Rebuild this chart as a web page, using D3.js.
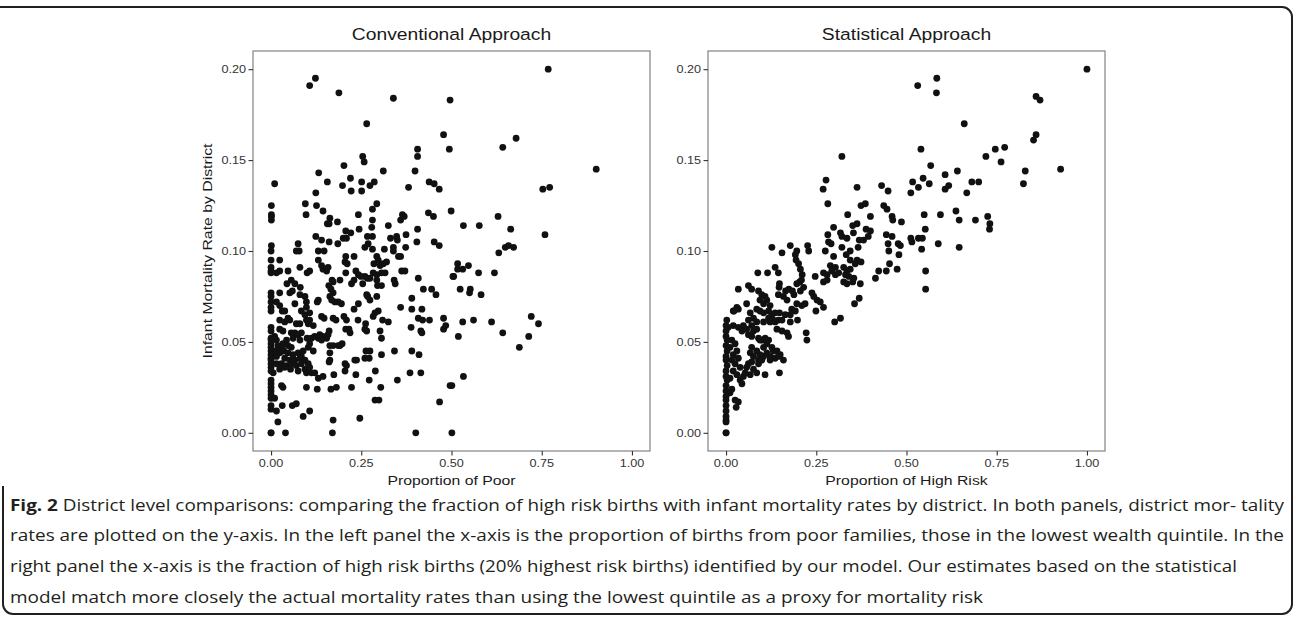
<!DOCTYPE html>
<html>
<head>
<meta charset="utf-8">
<script src="https://cdn.jsdelivr.net/npm/d3@7"></script>
<style>
  body { margin: 0; background: #fff; }
  svg { display: block; }
</style>
</head>
<body>
<div id="chart"></div>
<script>
// tick values shared by both panels
const xTicks = [0, 0.25, 0.5, 0.75, 1];
const yTicks = [0, 0.05, 0.1, 0.15, 0.2];

// panel titles and axis titles
const panelTitles = ["Conventional Approach", "Statistical Approach"];
const xTitles = ["Proportion of Poor", "Proportion of High Risk"];
const yTitle = "Infant Mortality Rate by District";

// left panel: [proportion of poor, infant mortality rate] per district
const conventionalPoints = [
  [0.010,0.137],[0.107,0.191],[0.123,0.195],[0.188,0.187],[0.339,0.184],[0.496,0.183],[0.265,0.170],[0.478,0.164],[0.406,0.156],[0.494,0.156],
  [0.254,0.152],[0.258,0.149],[0.406,0.152],[0.202,0.147],[0.311,0.144],[0.399,0.144],[0.132,0.143],[0.220,0.140],[0.156,0.138],[0.251,0.138],
  [0.286,0.138],[0.274,0.136],[0.198,0.136],[0.222,0.133],[0.251,0.133],[0.124,0.132],[0.381,0.135],[0.438,0.138],[0.452,0.137],[0.466,0.134],
  [0.001,0.125],[0.095,0.126],[0.126,0.125],[0.293,0.126],[0.281,0.123],[0.144,0.122],[0.001,0.120],[0.001,0.119],[0.001,0.117],[0.097,0.120],
  [0.242,0.120],[0.364,0.120],[0.369,0.119],[0.436,0.121],[0.450,0.119],[0.499,0.122],[0.163,0.118],[0.281,0.117],[0.359,0.117],[0.156,0.115],
  [0.161,0.115],[0.184,0.116],[0.325,0.114],[0.244,0.112],[0.279,0.113],[0.406,0.112],[0.207,0.111],[0.221,0.110],[0.374,0.109],[0.124,0.108],
  [0.140,0.106],[0.161,0.105],[0.200,0.107],[0.209,0.107],[0.185,0.104],[0.267,0.108],[0.281,0.108],[0.331,0.107],[0.348,0.108],[0.350,0.106],
  [0.001,0.103],[0.075,0.104],[0.404,0.105],[0.452,0.105],[0.466,0.103],[0.373,0.102],[0.339,0.102],[0.314,0.101],[0.260,0.102],[0.269,0.104],
  [0.768,0.200],[0.679,0.162],[0.642,0.157],[0.901,0.145],[0.772,0.135],[0.753,0.134],[0.629,0.119],[0.577,0.114],[0.533,0.114],[0.664,0.112],
  [0.759,0.109],[0.649,0.102],[0.658,0.103],[0.672,0.102],
  [0.631,0.099],[0.517,0.093],[0.547,0.092],[0.517,0.090],[0.531,0.090],[0.506,0.086],[0.575,0.088],[0.619,0.088],[0.524,0.079],[0.552,0.079],
  [0.550,0.077],[0.582,0.076],[0.531,0.061],[0.561,0.062],[0.611,0.061],[0.721,0.064],[0.741,0.060],[0.519,0.053],[0.642,0.055],[0.714,0.053],
  [0.688,0.047],[0.533,0.031],[0.501,0.026],[0.501,0.000],
  [0,0.100],[0,0.095],[0,0.091],[0,0.089],[0,0.088],[0,0.077],[0,0.075],[0,0.072],[0,0.069],[0,0.067],
  [0,0.058],[0,0.056],[0,0.052],[0,0.051],[0,0.049],[0,0.047],[0,0.045],[0,0.043],[0,0.041],[0,0.040],
  [0,0.038],[0,0.036],[0,0.034],[0,0.029],[0,0.027],[0,0.025],[0,0.023],[0,0.021],[0,0.019],[0,0.015],
  [0,0.013],[0,0.000],[0,0.000],
  [0.024,0.095],[0.024,0.089],[0.015,0.088],[0.024,0.077],[0.015,0.072],[0.024,0.070],[0.031,0.067],[0.038,0.067],[0.024,0.062],[0.038,0.061],
  [0.024,0.057],[0.033,0.056],[0.006,0.033],[0.029,0.026],[0.033,0.025],[0.010,0.019],[0.031,0.015],[0.015,0.012],[0.019,0.006],[0.040,0.000],
  [0.047,0.089],[0.078,0.100],[0.070,0.100],[0.080,0.091],[0.100,0.088],[0.107,0.089],[0.056,0.084],[0.044,0.082],[0.066,0.082],[0.081,0.080],
  [0.052,0.077],[0.059,0.078],[0.080,0.076],[0.094,0.075],[0.066,0.071],[0.098,0.072],[0.084,0.067],[0.098,0.069],[0.107,0.066],[0.094,0.065],
  [0.098,0.062],[0.107,0.062],[0.103,0.060],[0.117,0.059],[0.047,0.063],[0.052,0.062],[0.070,0.060],[0.080,0.060],[0.056,0.055],[0.066,0.055],
  [0.075,0.054],[0.084,0.055],[0.061,0.052],[0.080,0.051],
  [0.010,0.053],[0.015,0.051],[0.033,0.049],[0.043,0.051],[0.019,0.048],[0.029,0.047],[0.047,0.048],[0.056,0.047],[0.015,0.045],[0.024,0.044],
  [0.035,0.045],[0.047,0.044],[0.061,0.043],[0.075,0.044],[0.084,0.042],[0.015,0.042],[0.038,0.041],[0.052,0.040],[0.066,0.040],[0.080,0.041],
  [0.094,0.040],[0.015,0.038],[0.029,0.038],[0.043,0.037],[0.056,0.038],[0.070,0.037],[0.084,0.038],[0.103,0.038],[0.024,0.035],[0.038,0.036],
  [0.054,0.035],[0.075,0.034],[0.094,0.035],[0.107,0.036],[0.112,0.033],[0.121,0.033],[0.098,0.033],[0.089,0.045],[0.107,0.049],[0.103,0.047],
  [0.117,0.045],[0.100,0.052],[0.112,0.052],[0.121,0.053],[0.131,0.030],[0.098,0.025],[0.128,0.024],[0.059,0.015],[0.070,0.016],[0.089,0.009],
  [0.107,0.012],
  [0.131,0.100],[0.147,0.100],[0.131,0.095],[0.140,0.092],[0.144,0.090],[0.154,0.089],[0.158,0.091],[0.169,0.084],[0.160,0.081],[0.172,0.083],
  [0.166,0.079],[0.172,0.077],[0.163,0.075],[0.168,0.073],[0.177,0.072],[0.191,0.084],[0.186,0.072],[0.195,0.071],[0.131,0.073],[0.128,0.072],
  [0.140,0.064],[0.147,0.063],[0.172,0.063],[0.180,0.062],[0.202,0.064],[0.209,0.062],[0.135,0.054],[0.144,0.053],[0.131,0.052],[0.154,0.052],
  [0.140,0.051],[0.161,0.056],[0.158,0.054],[0.163,0.048],[0.172,0.048],[0.186,0.048],[0.191,0.048],[0.163,0.044],[0.163,0.040],[0.161,0.039],
  [0.207,0.057],[0.216,0.057],[0.219,0.055],[0.197,0.049],[0.205,0.038],[0.209,0.037],[0.232,0.040],[0.237,0.040],[0.205,0.034],[0.235,0.032],
  [0.144,0.031],[0.174,0.032],[0.166,0.024],[0.181,0.025],[0.223,0.025],[0.172,0.007],[0.170,0.000],[0.246,0.008],
  [0.207,0.097],[0.230,0.097],[0.205,0.094],[0.211,0.093],[0.207,0.088],[0.235,0.089],[0.242,0.087],[0.249,0.086],[0.281,0.101],[0.293,0.097],
  [0.297,0.095],[0.285,0.093],[0.302,0.092],[0.311,0.093],[0.320,0.094],[0.283,0.088],[0.293,0.087],[0.306,0.088],[0.316,0.088],[0.260,0.086],
  [0.267,0.085],[0.274,0.085],[0.254,0.082],[0.293,0.084],[0.295,0.081],[0.306,0.081],[0.223,0.082],[0.230,0.084],[0.265,0.076],[0.268,0.075],
  [0.274,0.073],[0.293,0.075],[0.242,0.071],[0.230,0.068],[0.297,0.067],[0.288,0.066],[0.283,0.064],[0.309,0.062],[0.325,0.061],[0.241,0.062],
  [0.262,0.060],[0.260,0.057],[0.265,0.056],[0.302,0.056],[0.306,0.052],[0.263,0.045],[0.274,0.045],[0.260,0.041],[0.272,0.041],[0.306,0.043],
  [0.342,0.045],[0.289,0.034],[0.272,0.029],[0.304,0.025],[0.288,0.018],[0.299,0.018],[0.350,0.029],
  [0.339,0.100],[0.353,0.097],[0.359,0.097],[0.362,0.089],[0.371,0.089],[0.341,0.084],[0.344,0.082],[0.408,0.085],[0.422,0.079],[0.445,0.079],
  [0.457,0.076],[0.390,0.074],[0.359,0.069],[0.390,0.068],[0.418,0.068],[0.408,0.063],[0.420,0.062],[0.439,0.062],[0.478,0.063],[0.415,0.056],
  [0.418,0.055],[0.388,0.058],[0.478,0.057],[0.484,0.059],[0.504,0.086],[0.390,0.045],[0.410,0.043],[0.385,0.033],[0.415,0.033],[0.496,0.026],
  [0.467,0.017],[0.401,0.000]
];

// right panel: [proportion of high risk births, infant mortality rate] per district
const statisticalPoints = [
  [0.321,0.152],[0.277,0.139],[0.269,0.134],[0.363,0.135],[0.431,0.136],[0.449,0.133],[0.282,0.126],[0.374,0.125],[0.386,0.126],[0.437,0.125],
  [0.446,0.123],[0.460,0.119],[0.462,0.117],[0.486,0.116],[0.337,0.120],[0.400,0.119],[0.298,0.113],[0.351,0.114],[0.363,0.115],[0.282,0.109],
  [0.317,0.110],[0.321,0.108],[0.335,0.107],[0.353,0.110],[0.369,0.106],[0.381,0.106],[0.388,0.112],[0.400,0.111],[0.394,0.108],[0.444,0.109],
  [0.460,0.108],[0.449,0.104],[0.477,0.104],[0.483,0.103],[0.284,0.105],[0.291,0.104],[0.321,0.102],[0.366,0.102],[0.127,0.102],[0.178,0.103],
  [0.226,0.103],[0.196,0.100],[0.275,0.100],[0.344,0.100],[0.451,0.100],
  [1.000,0.200],[0.531,0.191],[0.584,0.195],[0.583,0.187],[0.859,0.185],[0.870,0.183],[0.660,0.170],[0.859,0.164],[0.852,0.161],[0.540,0.156],
  [0.746,0.156],[0.772,0.157],[0.720,0.152],[0.762,0.149],[0.567,0.147],[0.607,0.142],[0.641,0.144],[0.829,0.144],[0.927,0.145],[0.546,0.140],
  [0.517,0.138],[0.563,0.137],[0.533,0.135],[0.512,0.132],[0.617,0.136],[0.607,0.134],[0.681,0.138],[0.700,0.138],[0.667,0.132],[0.824,0.137],
  [0.549,0.120],[0.594,0.120],[0.637,0.122],[0.646,0.117],[0.691,0.117],[0.725,0.119],[0.731,0.115],[0.730,0.112],[0.552,0.112],[0.512,0.107],
  [0.515,0.105],[0.533,0.107],[0.544,0.107],[0.588,0.104],[0.542,0.101],[0.646,0.102],
  [0.155,0.099],[0.229,0.100],[0.298,0.097],[0.333,0.098],[0.344,0.095],[0.363,0.095],[0.374,0.094],[0.358,0.093],[0.479,0.098],[0.553,0.089],
  [0.553,0.079],[0.453,0.093],[0.444,0.089],[0.423,0.089],[0.474,0.090],[0.414,0.085],[0.372,0.082],[0.369,0.074],[0.356,0.071],[0.317,0.063],
  [0.301,0.061],[0.247,0.086],[0.270,0.083],[0.280,0.084],[0.289,0.092],[0.293,0.089],[0.303,0.091],[0.303,0.087],[0.312,0.088],[0.326,0.091],
  [0.335,0.089],[0.331,0.087],[0.344,0.090],[0.340,0.086],[0.354,0.085],[0.326,0.083],[0.270,0.088],[0.280,0.087],[0.335,0.082],[0.351,0.083],
  [0.238,0.077],[0.243,0.075],[0.252,0.073],[0.261,0.072],[0.249,0.067],[0.270,0.069],[0.222,0.055],[0.224,0.051],[0.192,0.098],[0.194,0.095],
  [0.201,0.093],[0.206,0.090],[0.211,0.087],[0.209,0.084],[0.204,0.083],[0.196,0.082],[0.215,0.080],[0.206,0.078],[0.145,0.088],[0.136,0.091],
  [0.115,0.088],[0.088,0.088],[0.148,0.082],[0.147,0.080],[0.165,0.078],[0.174,0.079],[0.184,0.078],[0.188,0.076],[0.145,0.076],[0.159,0.075],
  [0.169,0.073],[0.196,0.071],[0.210,0.070],[0.219,0.071],[0.182,0.068],[0.192,0.067],[0.178,0.065],[0.198,0.062],[0.148,0.066],[0.164,0.065],
  [0.145,0.062],[0.155,0.062],[0.178,0.061],[0.141,0.057],[0.155,0.056],[0.169,0.055],[0.173,0.053],[0.062,0.081],[0.071,0.079],[0.034,0.079],
  [0.090,0.078],[0.099,0.076],[0.108,0.075],[0.094,0.073],[0.113,0.073],[0.104,0.071],[0.122,0.070],[0.057,0.071],[0.085,0.068],[0.094,0.067],
  [0.104,0.066],[0.118,0.067],[0.127,0.065],[0.136,0.066],[0.131,0.062],[0.118,0.063],[0.104,0.061],[0.122,0.061],[0.136,0.061],[0.020,0.067],
  [0.034,0.068],[0.067,0.066],[0.076,0.063],[0.062,0.062],[0.085,0.061],[0.071,0.059],
  [0.002,0.062],[0.006,0.058],[0.020,0.059],[0.034,0.058],[0.048,0.059],[0.057,0.057],[0.044,0.056],[0.076,0.056],[0.085,0.057],[0.062,0.054],
  [0.071,0.053],[0.090,0.052],[0.099,0.051],[0.108,0.052],[0.113,0.049],[0.104,0.047],[0.094,0.051],[0.118,0.051],[0.127,0.047],[0.131,0.045],
  [0.141,0.045],[0.150,0.043],[0.159,0.040],[0.145,0.042],[0.136,0.041],[0.122,0.042],[0.113,0.044],[0.104,0.042],[0.094,0.043],[0.085,0.045],
  [0.071,0.047],[0.067,0.044],[0.076,0.042],[0.090,0.040],[0.099,0.040],[0.090,0.038],[0.071,0.039],[0.062,0.038],[0.057,0.036],[0.076,0.035],
  [0.085,0.033],[0.067,0.032],[0.048,0.031],[0.053,0.033],[0.039,0.029],[0.044,0.027],[0.108,0.032],[0.148,0.033],[0.122,0.040],[0.025,0.018],
  [0.034,0.017],[0.028,0.014],[0.016,0.024],[0.011,0.022],[0.016,0.051],[0.025,0.049],[0.011,0.047],[0.030,0.045],[0.020,0.043],[0.034,0.041],
  [0.016,0.040],[0.025,0.038],[0.039,0.036],[0.020,0.034],[0.030,0.032],[0.011,0.030],[0.030,0.069],[0.022,0.067],
  [0,0.059],[0,0.056],[0,0.053],[0.003,0.051],[0,0.048],[0.003,0.045],[0,0.042],[0,0.040],[0.003,0.037],[0,0.034],
  [0,0.031],[0.003,0.029],[0,0.026],[0,0.023],[0,0.020],[0,0.018],[0,0.015],[0,0.012],[0,0.009],[0,0.007],
  [0,0.006],[0,0.000],[0,0.000]
];

// figure caption, one entry per printed line
const captionLines = [
  ["Fig. 2", " District level comparisons: comparing the fraction of high risk births with infant mortality rates by district. In both panels, district mor- tality"],
  ["", "rates are plotted on the y-axis. In the left panel the x-axis is the proportion of births from poor families, those in the lowest wealth quintile. In the"],
  ["", "right panel the x-axis is the fraction of high risk births (20% highest risk births) identified by our model. Our estimates based on the statistical"],
  ["", "model match more closely the actual mortality rates than using the lowest quintile as a proxy for mortality risk"]
];

const W = 1296, H = 619;
const svg = d3.select("#chart").append("svg")
  .attr("width", W)
  .attr("height", H);

// the printed figure text runs wider than Liberation Sans at the same height
const sx = 1.17;
const font = "'Liberation Sans', Arial, Helvetica, sans-serif";

function addText(g, x, y, str, size, anchor, color, rotate) {
  return g.append("text")
    .attr("transform", rotate
      ? `translate(${x},${y}) rotate(-90) scale(${sx},1)`
      : `translate(${x},${y}) scale(${sx},1)`)
    .attr("font-family", font)
    .attr("font-size", size)
    .attr("fill", color)
    .attr("text-anchor", anchor)
    .text(str);
}

const panelTop = 51, panelBottom = 451;
const panels = [
  { left: 253, right: 650, points: conventionalPoints },
  { left: 708, right: 1105, points: statisticalPoints }
];

const y = d3.scaleLinear().domain([-0.01, 0.21]).range([panelBottom, panelTop]);
const fmt = d3.format(".2f");

panels.forEach((p, i) => {
  const x = d3.scaleLinear().domain([-0.05, 1.05]).range([p.left, p.right]);
  const g = svg.append("g");

  // points
  g.append("g").selectAll("circle")
    .data(p.points)
    .enter().append("circle")
    .attr("cx", d => x(d[0]))
    .attr("cy", d => y(d[1]))
    .attr("r", 3.4)
    .attr("fill", "#111");

  // panel border
  g.append("rect")
    .attr("x", p.left)
    .attr("y", panelTop)
    .attr("width", p.right - p.left)
    .attr("height", panelBottom - panelTop)
    .attr("fill", "none")
    .attr("stroke", "#8c8c8c")
    .attr("stroke-width", 1.3);

  // axes
  const xAxis = g.append("g")
    .attr("transform", `translate(0,${panelBottom})`)
    .call(d3.axisBottom(x).tickValues(xTicks).tickSize(4.5).tickFormat(""));
  const yAxis = g.append("g")
    .attr("transform", `translate(${p.left},0)`)
    .call(d3.axisLeft(y).tickValues(yTicks).tickSize(4.5).tickFormat(""));
  [xAxis, yAxis].forEach(a => {
    a.select(".domain").remove();
    a.selectAll("line").attr("stroke", "#333").attr("stroke-width", 1.1);
  });

  xTicks.forEach(v => addText(g, x(v), 467, fmt(v), 10.8, "middle", "#333"));
  yTicks.forEach(v => addText(g, p.left - 7, y(v) + 3.9, fmt(v), 10.8, "end", "#333"));

  // titles
  addText(g, (p.left + p.right) / 2, 39.5, panelTitles[i], 16.5, "middle", "#1a1a1a");
  addText(g, (p.left + p.right) / 2, 484.5, xTitles[i], 13.5, "middle", "#1a1a1a");
});

addText(svg, 212, (panelTop + panelBottom) / 2, yTitle, 13.5, "middle", "#1a1a1a", true);

// caption box
const frame = d3.path();
frame.moveTo(0, 7);
frame.lineTo(1282, 7);
frame.arcTo(1292, 7, 1292, 17, 10);
frame.lineTo(1292, 604);
frame.arcTo(1292, 614, 1282, 614, 10);
frame.lineTo(13, 614);
frame.arcTo(3, 614, 3, 604, 10);
frame.lineTo(3, 486);
svg.append("path")
  .attr("d", frame.toString())
  .attr("fill", "none")
  .attr("stroke", "#231f20")
  .attr("stroke-width", 2);

// caption text
const capBase = [511, 541, 572, 603];
const capWidth = [1274, 1274, 1227, 973];
captionLines.forEach((line, i) => {
  const t = svg.append("text")
    .attr("x", 10)
    .attr("y", capBase[i])
    .attr("font-family", "'Open Sans', 'Noto Sans', sans-serif")
    .attr("font-size", 16.5)
    .attr("fill", "#231f20")
    .attr("textLength", capWidth[i])
    .attr("lengthAdjust", "spacingAndGlyphs");
  if (line[0]) t.append("tspan").attr("font-weight", "bold").text(line[0]);
  t.append("tspan").text(line[1]);
});
</script>
</body>
</html>
